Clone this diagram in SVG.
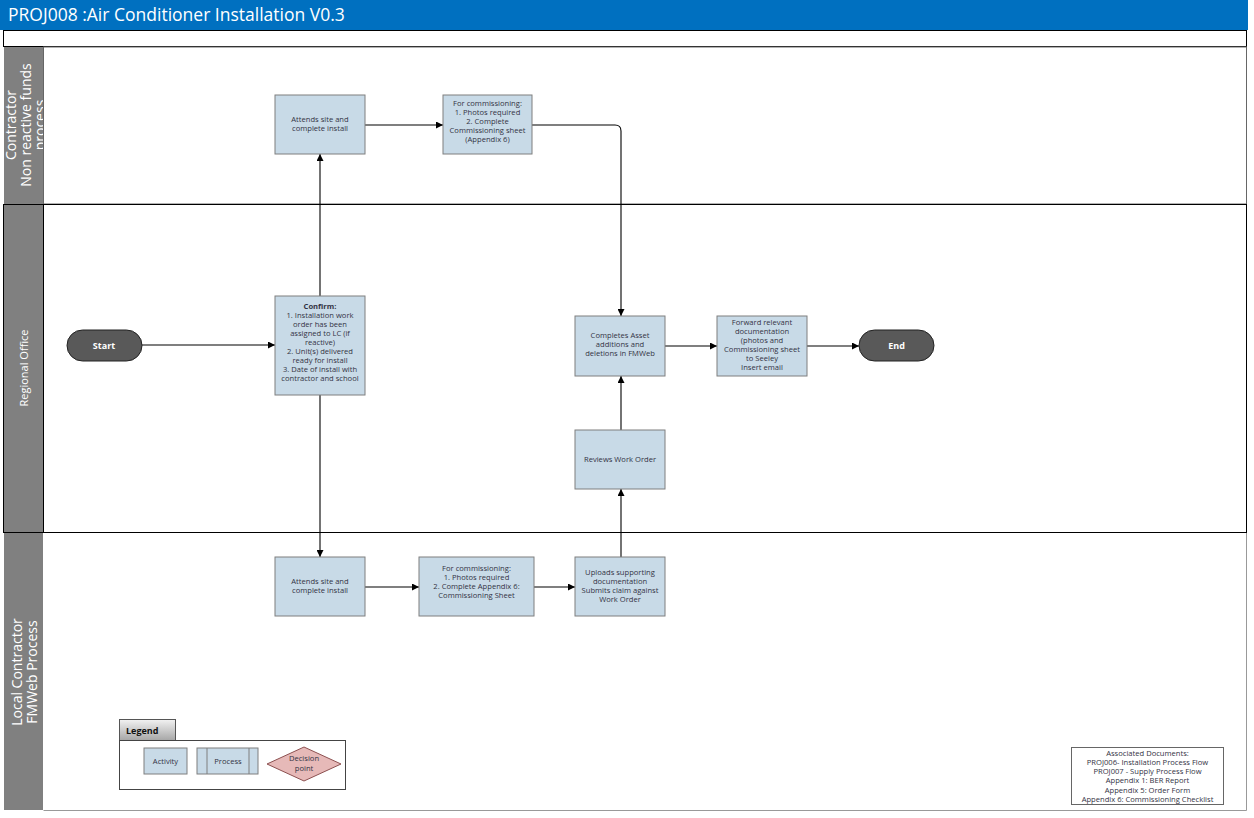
<svg xmlns="http://www.w3.org/2000/svg" width="1254" height="818" viewBox="0 0 1254 818">
<style>
.box{fill:#C8DAE7;stroke:#7F7F7F;stroke-width:1}
.t{font-family:"Open Sans","Liberation Sans",sans-serif;font-size:7.6px;fill:#333344;text-anchor:middle}
.term{fill:#595959;stroke:#222;stroke-width:1}
.tt{font-family:"Open Sans","Liberation Sans",sans-serif;font-size:9px;fill:#fff;text-anchor:middle;font-weight:bold}
.lh{fill:#808080}
.lt{font-family:"Open Sans","Liberation Sans",sans-serif;fill:#fff;text-anchor:middle}
.c{fill:none;stroke:#000;stroke-width:1.1}
</style>
<defs>
<marker id="a" viewBox="0 0 10 10" refX="10" refY="5" markerWidth="7" markerHeight="7" orient="auto" markerUnits="userSpaceOnUse">
<path d="M0,0 L10,5 L0,10 z" fill="#000"/>
</marker>
<linearGradient id="lg" x1="0" y1="0" x2="0" y2="1">
<stop offset="0" stop-color="#f2f2f2"/>
<stop offset="1" stop-color="#a6a6a6"/>
</linearGradient>
<clipPath id="cp1"><rect x="4" y="47" width="39" height="157"/></clipPath>
</defs>
<rect width="1254" height="818" fill="#fff"/>
<!-- title -->
<g id="title">
<rect x="0" y="0" width="1248" height="30" fill="#0070C0"/>
<text x="8" y="21" font-family="'Open Sans','Liberation Sans',sans-serif" font-size="17.5" fill="#fff">PROJ008 :Air Conditioner Installation V0.3</text>
<rect x="3.5" y="30.5" width="1243" height="16" fill="#fff" stroke="#000" stroke-width="1"/>
</g>
<!-- lanes -->
<g id="lane1">
<rect x="43.5" y="47" width="1203" height="157" fill="#fff" stroke="#666" stroke-width="1"/>
<rect class="lh" x="4" y="47" width="39" height="157"/>
<g clip-path="url(#cp1)">
<text class="lt" font-size="14" transform="translate(24,125) rotate(-90)"><tspan x="0" y="-8">Contractor</tspan><tspan x="0" y="7">Non reactive funds</tspan><tspan x="0" y="21">process</tspan></text>
</g>
</g>
<g id="lane2">
<rect x="3.5" y="204.5" width="1243" height="328" fill="#fff" stroke="#000" stroke-width="1"/>
<rect class="lh" x="4" y="205" width="39" height="327"/>
<line x1="43.5" y1="204.5" x2="43.5" y2="532.5" stroke="#000"/>
<text class="lt" font-size="11" transform="translate(28,368) rotate(-90)">Regional Office</text>
</g>
<g id="lane3">
<rect class="lh" x="4" y="533" width="39" height="277"/>
<line x1="43.5" y1="810.5" x2="1246.5" y2="810.5" stroke="#999"/>
<line x1="1246.5" y1="533" x2="1246.5" y2="810.5" stroke="#999"/>
<text class="lt" font-size="14" transform="translate(24,672) rotate(-90)"><tspan x="0" y="-2">Local Contractor</tspan><tspan x="0" y="13">FMWeb Process</tspan></text>
</g>
<!-- connectors -->
<g id="connectors">
<path class="c" d="M142,345 L275,345" marker-end="url(#a)"/>
<path class="c" d="M320,296 L320,154" marker-end="url(#a)"/>
<path class="c" d="M365,125 L443,125" marker-end="url(#a)"/>
<path class="c" d="M532,125 L615,125 Q621,125 621,131 L621,316" marker-end="url(#a)"/>
<path class="c" d="M320,395 L320,557" marker-end="url(#a)"/>
<path class="c" d="M365,587 L419,587" marker-end="url(#a)"/>
<path class="c" d="M534,587 L575,587" marker-end="url(#a)"/>
<path class="c" d="M621,557 L621,489" marker-end="url(#a)"/>
<path class="c" d="M621,430 L621,376" marker-end="url(#a)"/>
<path class="c" d="M665,346 L717,346" marker-end="url(#a)"/>
<path class="c" d="M807,346 L859,346" marker-end="url(#a)"/>
</g>
<!-- nodes -->
<g id="n_attends_top">
<rect class="box" x="275" y="95" width="90" height="59"/>
<text class="t" x="320" y="122">Attends site and</text>
<text class="t" x="320" y="131">complete install</text>
</g>
<g id="n_comm_top">
<rect class="box" x="443" y="95" width="89" height="59"/>
<text class="t" x="487.5" y="106">For commissioning:</text>
<text class="t" x="487.5" y="115">1. Photos required</text>
<text class="t" x="487.5" y="124">2. Complete</text>
<text class="t" x="487.5" y="133">Commissioning sheet</text>
<text class="t" x="487.5" y="142">(Appendix 6)</text>
</g>
<g id="n_start">
<rect class="term" x="67" y="330" width="75" height="31" rx="15.5"/>
<text class="tt" x="104" y="348.5">Start</text>
</g>
<g id="n_confirm">
<rect class="box" x="275" y="296" width="90" height="99"/>
<text class="t" x="320" y="309" font-weight="bold" fill="#111">Confirm:</text>
<text class="t" x="320" y="318">1. Installation work</text>
<text class="t" x="320" y="327">order has been</text>
<text class="t" x="320" y="336">assigned to LC (if</text>
<text class="t" x="320" y="345">reactive)</text>
<text class="t" x="320" y="354">2. Unit(s) delivered</text>
<text class="t" x="320" y="363">ready for install</text>
<text class="t" x="320" y="372">3. Date of install with</text>
<text class="t" x="320" y="381">contractor and school</text>
</g>
<g id="n_completes">
<rect class="box" x="575" y="316" width="90" height="60"/>
<text class="t" x="620" y="338">Completes Asset</text>
<text class="t" x="620" y="347">additions and</text>
<text class="t" x="620" y="356">deletions in FMWeb</text>
</g>
<g id="n_forward">
<rect class="box" x="717" y="316" width="90" height="60"/>
<text class="t" x="762" y="325">Forward relevant</text>
<text class="t" x="762" y="334">documentation</text>
<text class="t" x="762" y="343">(photos and</text>
<text class="t" x="762" y="352">Commissioning sheet</text>
<text class="t" x="762" y="361">to Seeley</text>
<text class="t" x="762" y="370">Insert email</text>
</g>
<g id="n_end">
<rect class="term" x="859" y="330" width="75" height="31" rx="15.5"/>
<text class="tt" x="896.5" y="348.5">End</text>
</g>
<g id="n_reviews">
<rect class="box" x="575" y="430" width="90" height="59"/>
<text class="t" x="620" y="462">Reviews  Work Order</text>
</g>
<g id="n_attends_bot">
<rect class="box" x="275" y="557" width="90" height="59"/>
<text class="t" x="320" y="584">Attends site and</text>
<text class="t" x="320" y="593">complete install</text>
</g>
<g id="n_comm_bot">
<rect class="box" x="419" y="557" width="115" height="59"/>
<text class="t" x="476.5" y="571">For commissioning:</text>
<text class="t" x="476.5" y="580">1. Photos required</text>
<text class="t" x="476.5" y="589">2. Complete Appendix 6:</text>
<text class="t" x="476.5" y="598">Commissioning Sheet</text>
</g>
<g id="n_uploads">
<rect class="box" x="575" y="557" width="90" height="59"/>
<text class="t" x="620" y="575">Uploads supporting</text>
<text class="t" x="620" y="584">documentation</text>
<text class="t" x="620" y="593">Submits claim against</text>
<text class="t" x="620" y="602">Work Order</text>
</g>
<!-- legend -->
<g id="legend">
<rect x="119.5" y="719.5" width="56" height="21" fill="url(#lg)" stroke="#555"/>
<text x="126" y="734" font-family="'Open Sans','Liberation Sans',sans-serif" font-size="9" font-weight="bold" fill="#111">Legend</text>
<rect x="119.5" y="740.5" width="226" height="49" fill="#fff" stroke="#444"/>
<rect class="box" x="144" y="748" width="43" height="26"/>
<text class="t" x="165.5" y="764">Activity</text>
<rect class="box" x="197" y="748" width="61" height="26"/>
<line x1="207" y1="748" x2="207" y2="774" stroke="#7F7F7F"/>
<line x1="249" y1="748" x2="249" y2="774" stroke="#7F7F7F"/>
<text class="t" x="228" y="764">Process</text>
<path d="M267,764 L304,747 L341,764 L304,781 Z" fill="#E6B9B8" stroke="#8C5050"/>
<text class="t" x="304" y="761" fill="#6a2a4a">Decision</text>
<text class="t" x="304" y="771" fill="#6a2a4a">point</text>
</g>
<g id="assoc">
<rect x="1071.5" y="747.5" width="152" height="57" fill="#fff" stroke="#666"/>
<text class="t" x="1147.5" y="756">Associated Documents:</text>
<text class="t" x="1147.5" y="765">PROJ006- Installation Process Flow</text>
<text class="t" x="1147.5" y="774">PROJ007 - Supply Process Flow</text>
<text class="t" x="1147.5" y="783">Appendix 1: BER Report</text>
<text class="t" x="1147.5" y="792.5">Appendix 5: Order Form</text>
<text class="t" x="1147.5" y="801.5">Appendix 6: Commissioning Checklist</text>
</g>
</svg>
